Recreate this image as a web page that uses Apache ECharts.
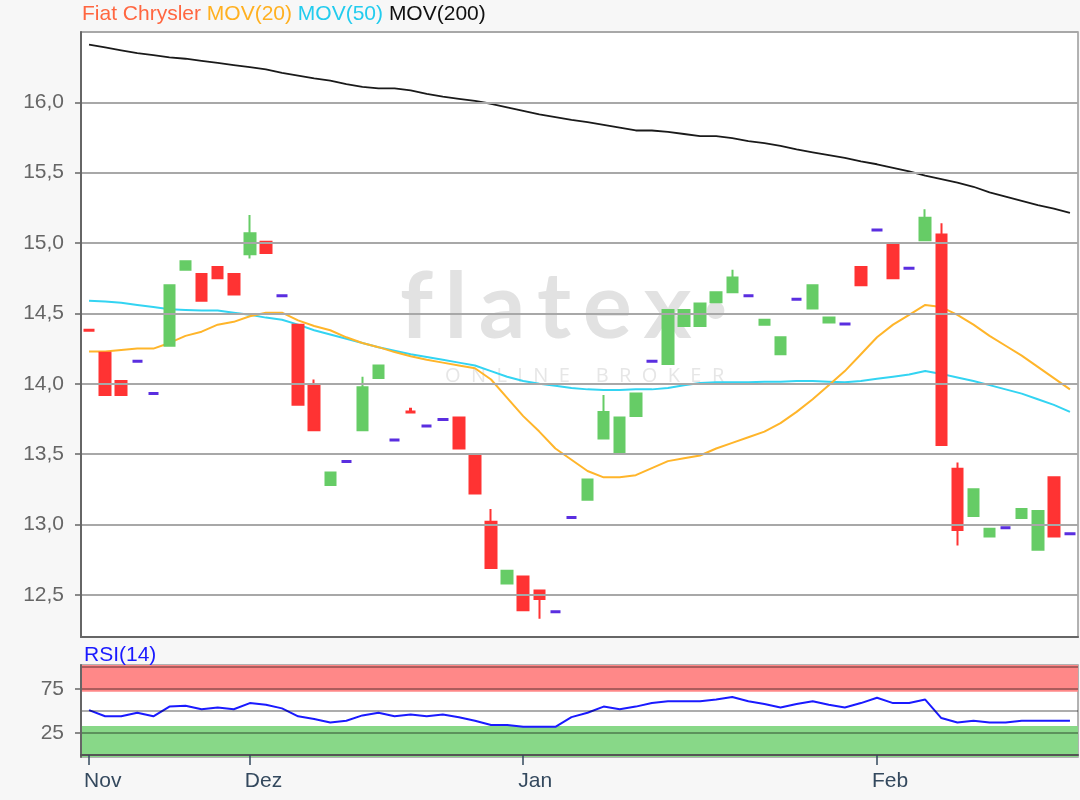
<!DOCTYPE html>
<html>
<head>
<meta charset="utf-8">
<script src="https://cdn.jsdelivr.net/npm/echarts@6/dist/echarts.min.js"></script>
<style>
html,body{margin:0;padding:0;background:#f7f7f7;}
#chart{width:1080px;height:800px;}
</style>
</head>
<body>
<div id="chart"></div>
<script>
// ---- data ----
const categories = Array.from({length: 62}, (_, i) => 'T' + (i + 1));
const monthTickIndex = [0, 10, 27, 49];
const monthTickLabels = ['Nov', 'Dez', 'Jan', 'Feb'];
const priceTicks = [12.5, 13.0, 13.5, 14.0, 14.5, 15.0, 15.5, 16.0];
const priceGridLines = [12.5, 13.0, 13.5, 14.0, 14.5, 15.0, 15.5, 16.0, 16.5];
const rsiTicks = [25, 75];
const rsiGridLines = [0, 25, 50, 75, 100];

const opens  = [14.38,14.22,14.02,14.16,13.93,14.27,14.81,14.78,14.83,14.78,
                14.92,15.01,14.625,14.42,13.99,13.28,13.447,13.67,14.04,13.60,
                13.80,13.70,13.745,13.76,13.50,13.02,12.58,12.63,12.53,12.38,
                13.05,13.175,13.61,13.51,13.77,14.16,14.14,14.41,14.41,14.58,
                14.65,14.625,14.42,14.21,14.60,14.535,14.435,14.424,14.83,15.093,
                14.99,14.82,15.02,15.06,13.395,13.06,12.915,12.976,13.045,12.82,
                13.335,12.933];
const closes = [14.38,13.92,13.92,14.16,13.93,14.70,14.87,14.59,14.75,14.635,
                15.07,14.93,14.625,13.85,13.67,13.37,13.447,13.975,14.13,13.60,
                13.80,13.70,13.745,13.54,13.22,12.69,12.67,12.39,12.47,12.38,
                13.05,13.32,13.80,13.76,13.93,14.16,14.525,14.525,14.57,14.65,
                14.755,14.625,14.455,14.33,14.60,14.70,14.47,14.424,14.70,15.093,
                14.75,14.82,15.18,13.565,12.96,13.25,12.97,12.976,13.11,13.095,
                12.915,12.933];
const lows   = [14.38,13.92,13.92,14.16,13.93,14.27,14.81,14.59,14.75,14.635,
                14.89,14.93,14.625,13.85,13.67,13.28,13.447,13.67,14.04,13.60,
                13.80,13.70,13.745,13.54,13.22,12.69,12.58,12.39,12.33,12.38,
                13.05,13.175,13.61,13.51,13.77,14.16,14.14,14.41,14.41,14.58,
                14.65,14.625,14.42,14.21,14.60,14.535,14.435,14.424,14.70,15.093,
                14.75,14.82,15.02,13.565,12.85,13.06,12.915,12.976,13.045,12.82,
                12.915,12.933];
const highs  = [14.38,14.22,14.02,14.16,13.93,14.70,14.87,14.78,14.83,14.78,
                15.20,15.01,14.625,14.42,14.03,13.37,13.447,14.05,14.13,13.60,
                13.83,13.70,13.745,13.76,13.50,13.11,12.67,12.63,12.53,12.38,
                13.05,13.32,13.92,13.76,13.93,14.16,14.525,14.525,14.57,14.65,
                14.81,14.625,14.455,14.33,14.60,14.70,14.47,14.424,14.83,15.093,
                14.99,14.82,15.24,15.14,13.44,13.25,12.97,12.976,13.11,13.095,
                13.335,12.933];
const flatPurpleDays = [3,4,12,16,19,21,22,29,30,35,41,44,47,49,51,57,61];
const flatRedDays = [0,20];

const mov20  = [14.23,14.23,14.24,14.25,14.25,14.29,14.34,14.37,14.42,14.44,
                14.48,14.505,14.505,14.45,14.41,14.38,14.33,14.29,14.26,14.225,
                14.195,14.17,14.15,14.13,14.11,14.03,13.90,13.77,13.66,13.54,
                13.46,13.38,13.335,13.335,13.35,13.40,13.45,13.47,13.49,13.54,
                13.58,13.62,13.66,13.72,13.80,13.89,13.99,14.09,14.21,14.33,
                14.42,14.49,14.56,14.545,14.49,14.42,14.34,14.27,14.20,14.12,
                14.04,13.96];
const mov50  = [14.59,14.585,14.575,14.56,14.545,14.53,14.525,14.52,14.52,14.505,
                14.49,14.47,14.455,14.42,14.38,14.35,14.32,14.29,14.26,14.235,
                14.21,14.19,14.17,14.15,14.13,14.09,14.05,14.02,14.00,13.985,
                13.97,13.96,13.955,13.955,13.96,13.96,13.97,13.99,14.005,14.01,
                14.01,14.01,14.015,14.015,14.02,14.02,14.015,14.01,14.02,14.035,
                14.05,14.065,14.09,14.07,14.045,14.02,13.99,13.96,13.93,13.89,
                13.85,13.80];
const mov200 = [16.41,16.39,16.37,16.35,16.335,16.32,16.31,16.295,16.28,16.265,
                16.25,16.235,16.21,16.19,16.17,16.155,16.13,16.11,16.10,16.10,
                16.085,16.06,16.04,16.025,16.01,15.99,15.965,15.94,15.915,15.895,
                15.875,15.86,15.84,15.82,15.80,15.80,15.79,15.775,15.76,15.76,
                15.745,15.725,15.71,15.69,15.665,15.645,15.625,15.605,15.58,15.56,
                15.535,15.51,15.48,15.455,15.43,15.40,15.36,15.33,15.30,15.27,
                15.245,15.215];
const rsi14  = [51,44,44,48,44,55,56,52,54,52,
                59,57,53,44,41,37,39,45,48,44,
                46,44,46,43,39,34,34,32,32,32,
                43,48,55,52,55,59,61,61,61,63,
                66,61,58,54,58,61,57,54,59,65,
                59,59,63,42,37,39,37,37,39,39,
                39,39];

// ---- build ----
const UP = '#66cc66', DOWN = '#ff3333', FLAT = '#5a2ee0';
const candleData = opens.map((o, i) => {
  const item = { value: [o, closes[i], lows[i], highs[i]] };
  let c = null;
  if (flatPurpleDays.includes(i)) c = FLAT;
  else if (flatRedDays.includes(i)) c = DOWN;
  if (c) item.itemStyle = { color: c, color0: c, borderColor: c, borderColor0: c, borderColorDoji: c, borderWidth: 3 };
  return item;
});

const FONT = 'Liberation Sans, Arial, sans-serif';
const chart = echarts.init(document.getElementById('chart'), null, {renderer: 'canvas'});
const option = {
  animation: false,
  backgroundColor: '#f7f7f7',
  title: {
    left: 82, top: 4, padding: 0,
    text: '{a|Fiat Chrysler} {b|MOV(20)} {c|MOV(50)} {d|MOV(200)}',
    textStyle: {
      fontFamily: FONT, fontSize: 21, fontWeight: 'normal',
      rich: {
        a: {color: '#ff6640', fontSize: 21, fontFamily: FONT},
        b: {color: '#ffb020', fontSize: 21, fontFamily: FONT},
        c: {color: '#22ccee', fontSize: 21, fontFamily: FONT},
        d: {color: '#111111', fontSize: 21, fontFamily: FONT}
      }
    }
  },
  graphic: [
    {type: 'text', left: 400, top: 262, z: 1, silent: true,
     style: {text: 'f\u2009l\u2009a\u2009t\u2009e\u2009x\u2009\u00b7', fontSize: 92, fontWeight: 'bold', fontFamily: 'Lato, sans-serif', fill: '#e2e2e2'}},
    {type: 'text', left: 445, top: 366, z: 1, silent: true,
     style: {text: 'O  N  L  I  N  E     B  R  O  K  E  R', fontSize: 20, fontFamily: 'Open Sans, sans-serif', fill: '#e6e6e6'}},
    {type: 'text', left: 84, top: 645, silent: true,
     style: {text: 'RSI(14)', fontSize: 21, fontFamily: FONT, fill: '#1a1aff'}}
  ],
  grid: [
    {left: 81, top: 32, width: 997, height: 605, show: true, backgroundColor: '#ffffff', borderColor: '#9a9a9a', borderWidth: 1.5},
    {left: 81, top: 665, width: 997, height: 92, show: true, backgroundColor: '#ffffff', borderColor: '#9a9a9a', borderWidth: 1.5}
  ],
  xAxis: [
    {type: 'category', gridIndex: 0, data: categories, boundaryGap: true, z: 10,
     axisLine: {show: true, lineStyle: {color: '#666', width: 2}},
     axisTick: {show: false}, axisLabel: {show: false}, splitLine: {show: false}},
    {type: 'category', gridIndex: 1, data: categories, boundaryGap: true, z: 10,
     axisLine: {show: true, lineStyle: {color: '#555', width: 2}},
     axisTick: {show: true, alignWithLabel: true, length: 10, lineStyle: {color: '#34495e', width: 1.5},
       interval: (idx) => monthTickIndex.includes(idx)},
     axisLabel: {show: true, align: 'left', margin: 14, color: '#34495e', fontSize: 21, fontFamily: FONT,
       padding: [0, 0, 0, -5],
       interval: (idx) => monthTickIndex.includes(idx),
       formatter: (v, idx) => { const k = monthTickIndex.indexOf(idx); return k >= 0 ? monthTickLabels[k] : ''; }},
     splitLine: {show: false}}
  ],
  yAxis: [
    {type: 'value', gridIndex: 0, min: 12.2, max: 16.5, z: 10,
     axisLine: {show: true, lineStyle: {color: '#666', width: 2}},
     axisTick: {show: true, length: 6, lineStyle: {color: '#666', width: 1.5}, customValues: priceTicks},
     axisLabel: {color: '#666', fontSize: 21, fontFamily: FONT, margin: 17, customValues: priceTicks,
       formatter: (v) => v.toFixed(1).replace('.', ',')},
     splitLine: {show: false}},
    {type: 'value', gridIndex: 1, min: -2.3, max: 102.3, z: 10,
     axisLine: {show: true, lineStyle: {color: '#666', width: 2}},
     axisTick: {show: true, length: 6, lineStyle: {color: '#666', width: 1.5}, customValues: rsiTicks},
     axisLabel: {color: '#666', fontSize: 21, fontFamily: FONT, margin: 17, customValues: rsiTicks},
     splitLine: {show: false}}
  ],
  series: [
    {name: 'grid', type: 'line', xAxisIndex: 0, yAxisIndex: 0, data: [], z: 2, silent: true,
     markLine: {silent: true, symbol: 'none', label: {show: false}, animation: false,
       lineStyle: {color: '#a8a8a8', width: 2, type: 'solid'},
       data: priceGridLines.map(v => ({yAxis: v}))}},
    {name: 'MOV(200)', type: 'line', xAxisIndex: 0, yAxisIndex: 0, data: mov200, z: 3,
     symbol: 'none', lineStyle: {color: '#1a1a1a', width: 1.8}},
    {name: 'MOV(50)', type: 'line', xAxisIndex: 0, yAxisIndex: 0, data: mov50, z: 3,
     symbol: 'none', lineStyle: {color: '#33d4f2', width: 2}},
    {name: 'MOV(20)', type: 'line', xAxisIndex: 0, yAxisIndex: 0, data: mov20, z: 3,
     symbol: 'none', lineStyle: {color: '#ffb52a', width: 2}},
    {name: 'Fiat Chrysler', type: 'candlestick', xAxisIndex: 0, yAxisIndex: 0, z: 4,
     barWidth: 11, data: candleData,
     itemStyle: {color: UP, color0: DOWN, borderColor: UP, borderColor0: DOWN, borderWidth: 2}},
    {name: 'rsiBands', type: 'line', xAxisIndex: 1, yAxisIndex: 1, data: [], z: 2, silent: true,
     markArea: {silent: true, data: [
       [{yAxis: 72, itemStyle: {color: '#ff8888', opacity: 1}}, {yAxis: 102.3}],
       [{yAxis: -2.3, itemStyle: {color: '#88d888', opacity: 1}}, {yAxis: 33}]
     ]},
     markLine: {silent: true, symbol: 'none', label: {show: false},
       lineStyle: {color: 'rgba(0,0,0,0.32)', width: 2, type: 'solid'},
       data: rsiGridLines.map(v => ({yAxis: v}))}},
    {name: 'RSI(14)', type: 'line', xAxisIndex: 1, yAxisIndex: 1, data: rsi14, z: 4,
     symbol: 'none', lineStyle: {color: '#1a1aff', width: 2}}
  ]
};
chart.setOption(option);
</script>
</body>
</html>
